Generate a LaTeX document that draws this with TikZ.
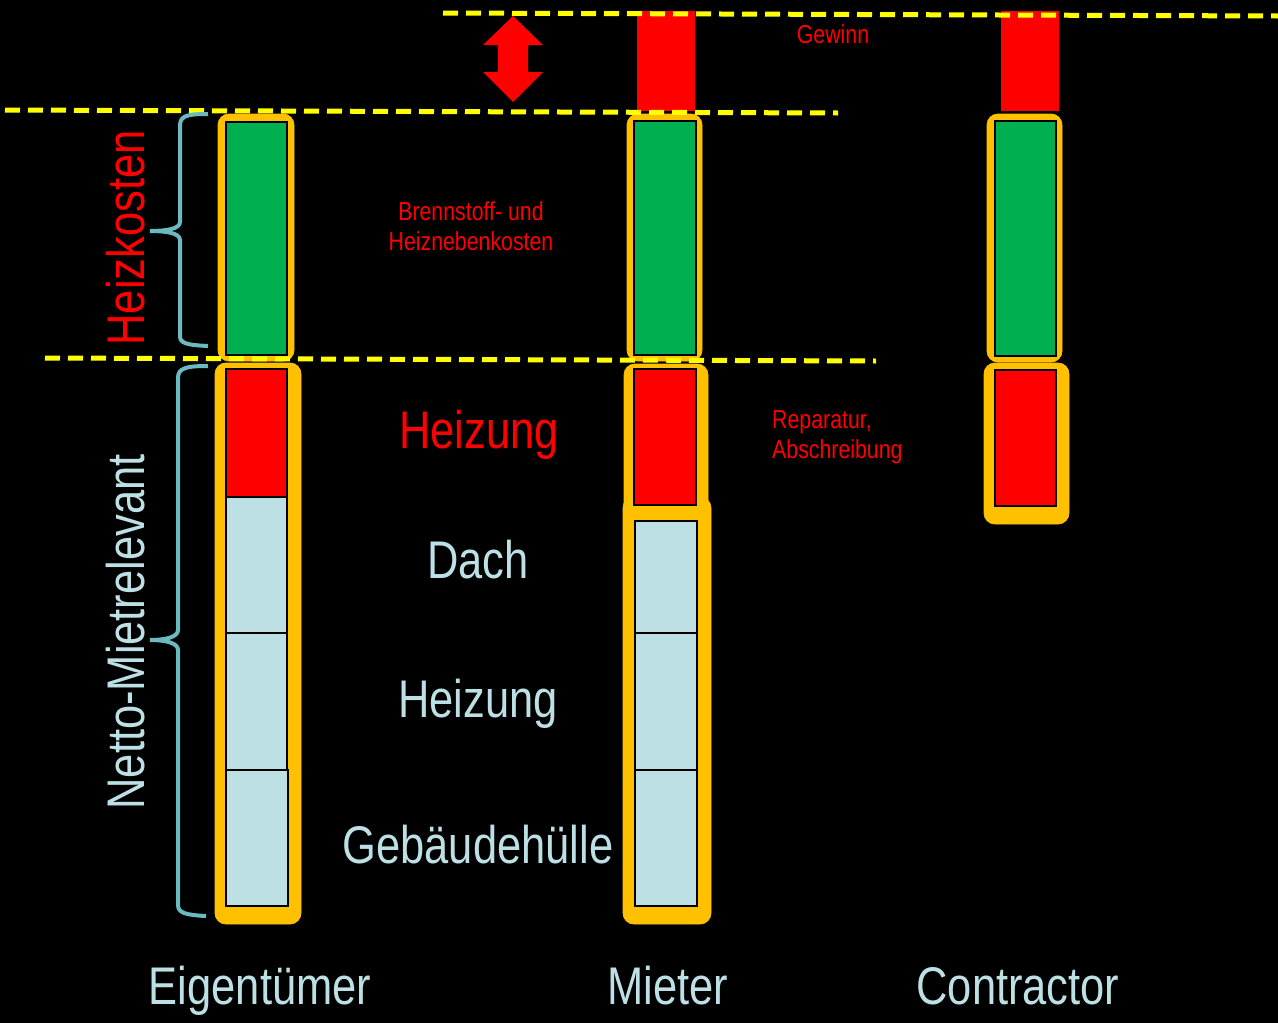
\documentclass[tikz,border=0pt]{standalone}
\usepackage{fontspec}
\setmainfont{Liberation Sans}[FakeStretch=0.82]
\definecolor{myred}{RGB}{255,0,0}
\definecolor{mygreen}{RGB}{0,176,80}
\definecolor{myorange}{RGB}{255,192,0}
\definecolor{mylight}{RGB}{189,224,228}
\definecolor{myteal}{RGB}{108,186,193}
\definecolor{myyellow}{RGB}{255,255,0}
\tikzset{
  frame/.style={fill=myorange, draw=myorange, line width=0.8pt, rounded corners=11pt},
  cell/.style={draw=black, line width=1.6pt},
  ydash/.style={draw=myyellow, line width=5pt, dash pattern=on 15pt off 8pt},
  brace/.style={draw=myteal, line width=4pt},
  big/.style={font=\fontsize{53}{60}\selectfont, inner sep=0pt, anchor=base},
  small/.style={font=\fontsize{26}{30}\selectfont, inner sep=0pt, text=myred, anchor=base},
}
\begin{document}
\begin{tikzpicture}[x=1pt,y=-1pt]
\fill[black] (0,0) rectangle (1278,1023);
\useasboundingbox (0,0) rectangle (1278,1023);

% top red bars (Gewinn)
\fill[myred] (637,11) rectangle (695,111);
\fill[myred] (1001,11) rectangle (1059,111);

% double arrow
\fill[myred] (513,16) -- (543,45) -- (528,45) -- (528,72) -- (543,72) -- (513,102)
  -- (483,72) -- (498,72) -- (498,45) -- (483,45) -- cycle;

% Eigentuemer column
\draw[frame] (218,114) rectangle (294,361);
\draw[cell, fill=mygreen] (226,122) rectangle (287,355);
\draw[frame] (215,363) rectangle (301,924);
\draw[cell, fill=myred] (226,369) rectangle (287,497);
\draw[cell, fill=mylight] (226,497) rectangle (287,633);
\draw[cell, fill=mylight] (226,633) rectangle (287,770);
\draw[cell, fill=mylight] (226,770) rectangle (288,906);

% Mieter column
\draw[frame] (627,114) rectangle (702,361);
\draw[cell, fill=mygreen] (634,121) rectangle (696,355);
\draw[frame] (623,497) rectangle (711,924);
\draw[frame] (624,364) rectangle (708,520);
\draw[cell, fill=myred] (634,369) rectangle (696,505);
\draw[cell, fill=mylight] (635,521) rectangle (697,633);
\draw[cell, fill=mylight] (635,633) rectangle (697,770);
\draw[cell, fill=mylight] (635,770) rectangle (697,906);

% Contractor column
\draw[frame] (987,114) rectangle (1062,362);
\draw[cell, fill=mygreen] (995,121) rectangle (1056,356);
\draw[frame] (984,363) rectangle (1069,524);
\draw[cell, fill=myred] (995,370) rectangle (1056,506);

% dashed lines
\coordinate (l1a) at (443,13); \coordinate (l1b) at (1278,16);
\coordinate (l2a) at (5,110);  \coordinate (l2b) at (838,113);
\coordinate (l3a) at (45,358); \coordinate (l3b) at (876,361);
\draw[ydash] (l1a) -- (l1b);
\draw[ydash] (l2a) -- (l2b);
\draw[ydash] (l3a) -- (l3b);

% braces
\draw[brace] (208,114) .. controls (186,114) and (180,116) .. (180,126) -- (180,222)
  .. controls (180,229) and (166,231) .. (150,231)
  .. controls (166,231) and (180,233) .. (180,240) -- (180,336)
  .. controls (180,343) and (186,345) .. (208,346);
\draw[brace] (208,366) .. controls (186,366) and (178,368) .. (178,378) -- (178,630)
  .. controls (178,637) and (166,640) .. (150,640)
  .. controls (166,640) and (178,643) .. (178,650) -- (178,905)
  .. controls (178,913) and (186,915) .. (206,916);

% texts
\node[big, text=myred, rotate=90, anchor=center] (hk) at (126,238) {Heizkosten};
\node[big, text=mylight, rotate=90, anchor=center] (nm) at (126,632) {Netto-Mietrelevant};
\node[small, align=center] (bh) at (471,250) {Brennstoff- und\\Heiznebenkosten};
\node[small] (gw) at (833,43) {Gewinn};
\node[small, align=left, anchor=base west] (ra) at (772,458) {Reparatur,\\Abschreibung};
\node[big, text=myred] (hz1) at (479,448) {Heizung};
\node[big, text=mylight] (da) at (478,578) {Dach};
\node[big, text=mylight] (hz2) at (478,717) {Heizung};
\node[big, text=mylight] (gh) at (478,863) {Gebäudehülle};
\node[big, text=mylight] (eg) at (260,1004) {Eigentümer};
\node[big, text=mylight] (mi) at (668,1004) {Mieter};
\node[big, text=mylight] (co) at (1018,1004) {Contractor};
\end{tikzpicture}
\end{document}
